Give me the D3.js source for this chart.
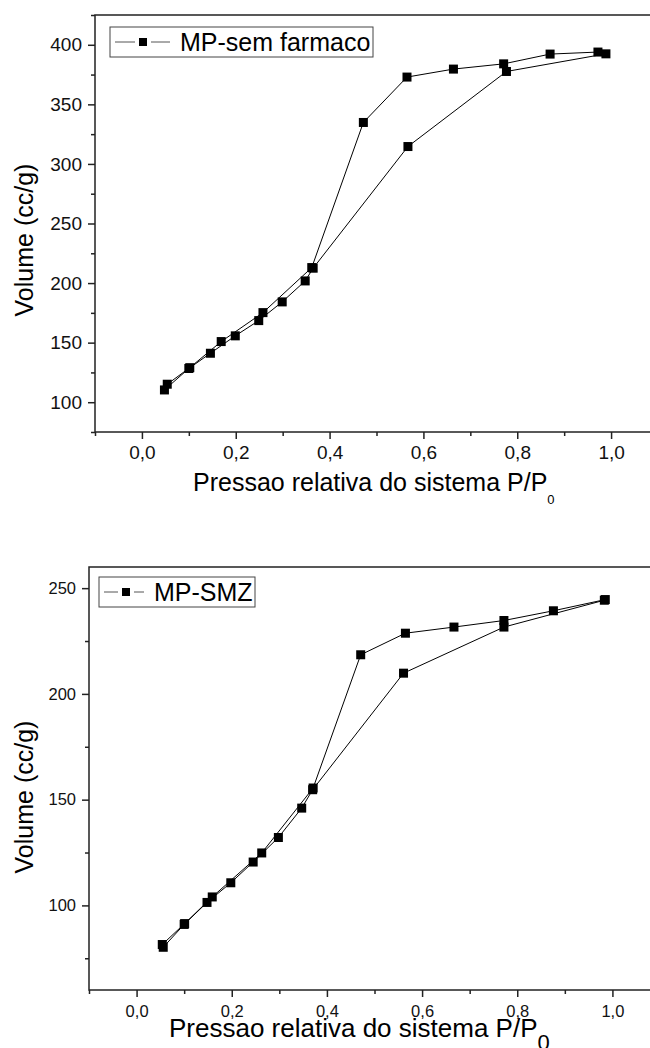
<!DOCTYPE html>
<html>
<head>
<meta charset="utf-8">
<script src="https://cdn.jsdelivr.net/npm/d3@7"></script>
<style>
  body { margin: 0; background: #fff; }
  svg { display: block; font-family: "Liberation Sans", Arial, sans-serif; }
</style>
</head>
<body>
<svg id="chart" width="650" height="1048"></svg>
<script>
// MP-sem farmaco: adsorption then desorption branch
var ads1P = [0.048, 0.100, 0.146, 0.199, 0.249, 0.299, 0.348, 0.365, 0.567, 0.777, 0.989];
var ads1V = [110.3, 128.3, 141.1, 155.7, 168.5, 184.2, 201.8, 212.5, 314.6, 377.6, 392.4];
var des1P = [0.972, 0.870, 0.771, 0.664, 0.565, 0.472, 0.362, 0.258, 0.169, 0.102, 0.054];
var des1V = [393.9, 392.2, 384.0, 379.6, 372.9, 334.8, 213.0, 175.2, 150.9, 129.0, 115.1];

// MP-SMZ
var ads2P = [0.056, 0.100, 0.148, 0.198, 0.245, 0.298, 0.347, 0.370, 0.561, 0.772, 0.983];
var ads2V = [80.2, 91.0, 101.4, 110.7, 120.5, 132.1, 146.0, 154.7, 209.8, 231.6, 244.3];
var des2P = [0.985, 0.876, 0.772, 0.667, 0.565, 0.471, 0.371, 0.263, 0.159, 0.101, 0.054];
var des2V = [244.6, 239.3, 234.7, 231.6, 228.7, 218.5, 155.5, 124.8, 104.0, 91.4, 81.5];

var xMajor = [0.0, 0.2, 0.4, 0.6, 0.8, 1.0];
var xMinor = [-0.1, 0.1, 0.3, 0.5, 0.7, 0.9, 1.1];
var y1Major = [100, 150, 200, 250, 300, 350, 400];
var y1Minor = [75, 125, 175, 225, 275, 325, 375, 425];
var y2Major = [100, 150, 200, 250];
var y2Minor = [75, 125, 175, 225];

var svg = d3.select('#chart');
var comma = function(d){ return d3.format('.1f')(d).replace('.', ','); };

function drawPanel(cfg){
  var x = d3.scaleLinear().domain([-0.1, 1.1]).range([cfg.left, cfg.right]);
  var y = d3.scaleLinear().domain(cfg.yDomain).range([cfg.bottom, cfg.top]);
  var g = svg.append('g');

  // frame
  g.append('rect')
    .attr('x', cfg.left).attr('y', cfg.top)
    .attr('width', cfg.right - cfg.left).attr('height', cfg.bottom - cfg.top)
    .attr('fill', 'none').attr('stroke', '#222').attr('stroke-width', 1.5);

  g.append('g').attr('transform', 'translate(0,' + cfg.bottom + ')')
    .call(d3.axisBottom(x).tickValues(xMajor).tickSize(7).tickPadding(cfg.xPad).tickFormat(comma));
  g.append('g').attr('transform', 'translate(0,' + cfg.bottom + ')')
    .call(d3.axisBottom(x).tickValues(xMinor).tickSize(4).tickFormat(''));
  g.append('g').attr('transform', 'translate(' + cfg.left + ',0)')
    .call(d3.axisLeft(y).tickValues(cfg.yMajor).tickSize(7).tickPadding(cfg.yPad).tickFormat(d3.format('d')));
  g.append('g').attr('transform', 'translate(' + cfg.left + ',0)')
    .call(d3.axisLeft(y).tickValues(cfg.yMinor).tickSize(4).tickFormat(''));

  g.selectAll('.domain').remove();
  g.selectAll('.tick line').attr('stroke', '#222').attr('stroke-width', 1.5);
  g.selectAll('.tick text').attr('fill', '#111').style('font-size', cfg.tickFont + 'px')
    .style('font-family', '"Liberation Sans", Arial, sans-serif');

  // isotherm loop: adsorption followed by desorption
  var pts = cfg.adsP.map(function(p, i){ return [p, cfg.adsV[i]]; })
    .concat(cfg.desP.map(function(p, i){ return [p, cfg.desV[i]]; }));
  var line = d3.line().x(function(d){ return x(d[0]); }).y(function(d){ return y(d[1]); });
  g.append('path').datum(pts).attr('d', line)
    .attr('fill', 'none').attr('stroke', '#000').attr('stroke-width', 1);
  var s = 9;
  g.selectAll('rect.pt').data(pts).enter().append('rect').attr('class', 'pt')
    .attr('x', function(d){ return x(d[0]) - s / 2; })
    .attr('y', function(d){ return y(d[1]) - s / 2; })
    .attr('width', s).attr('height', s).attr('fill', '#000');

  // legend
  var L = cfg.legend;
  g.append('rect').attr('x', L.x).attr('y', L.y).attr('width', L.w).attr('height', L.h)
    .attr('fill', '#fff').attr('stroke', '#444').attr('stroke-width', 1);
  var ly = L.y + L.h / 2;
  g.append('line').attr('x1', L.x + 5).attr('x2', L.mx - 8).attr('y1', ly).attr('y2', ly)
    .attr('stroke', '#555').attr('stroke-width', 1);
  g.append('line').attr('x1', L.mx + 8).attr('x2', L.tx - 10).attr('y1', ly).attr('y2', ly)
    .attr('stroke', '#555').attr('stroke-width', 1);
  g.append('rect').attr('x', L.mx - 4).attr('y', ly - 4).attr('width', 8).attr('height', 8).attr('fill', '#000');
  g.append('text').attr('x', L.tx).attr('y', ly + 9).style('font-size', '25px').attr('fill', '#000')
    .text(cfg.name);

  // axis titles
  g.append('text').attr('transform', 'translate(33,' + cfg.yLabelY + ') rotate(-90)')
    .attr('text-anchor', 'middle').style('font-size', '25px').attr('fill', '#000')
    .text('Volume (cc/g)');
  var xt = g.append('text').attr('x', cfg.xLabelX).attr('y', cfg.xLabelY)
    .style('font-size', cfg.xLabelFont + 'px').attr('fill', '#000');
  xt.append('tspan').text('Pressao relativa do sistema P/P');
  xt.append('tspan').attr('dy', cfg.subDy).style('font-size', cfg.subFont + 'px').text('0');
}

drawPanel({
  left: 95, right: 658, top: 15, bottom: 432,
  yDomain: [75, 425], yMajor: y1Major, yMinor: y1Minor,
  tickFont: 19, xPad: 7, yPad: 6,
  adsP: ads1P, adsV: ads1V, desP: des1P, desV: des1V,
  name: 'MP-sem farmaco',
  legend: { x: 110, y: 27, w: 263, h: 30, mx: 143, tx: 180 },
  yLabelY: 240,
  xLabelX: 193, xLabelY: 491, xLabelFont: 25, subFont: 13, subDy: 13
});

drawPanel({
  left: 89, right: 660, top: 567, bottom: 990,
  yDomain: [60, 260], yMajor: y2Major, yMinor: y2Minor,
  tickFont: 16.5, xPad: 8, yPad: 6,
  adsP: ads2P, adsV: ads2V, desP: des2P, desV: des2V,
  name: 'MP-SMZ',
  legend: { x: 99, y: 577, w: 156, h: 30, mx: 126, tx: 154 },
  yLabelY: 797,
  xLabelX: 169, xLabelY: 1037, xLabelFont: 26, subFont: 22, subDy: 13
});
</script>
</body>
</html>
